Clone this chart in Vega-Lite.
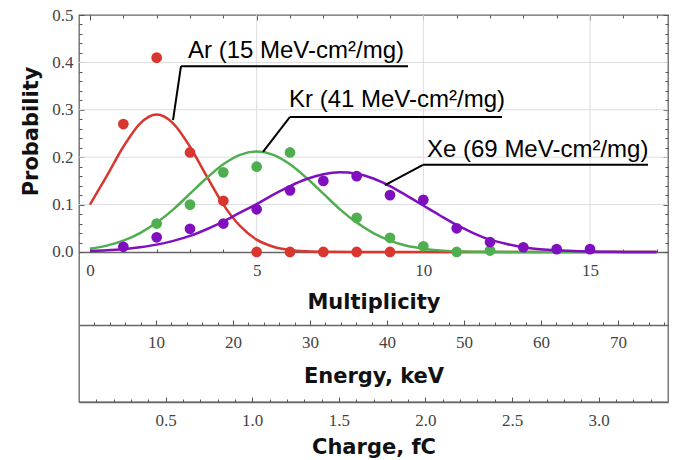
{
  "$schema": "https://vega.github.io/schema/vega-lite/v6.json",
  "width": 589,
  "height": 387,
  "autosize": "none",
  "padding": {"left": 79, "top": 15, "right": 15, "bottom": 58},
  "background": "white",
  "config": {
    "view": {"stroke": "#666666", "strokeWidth": 1.3},
    "axis": {
      "labelFont": "Liberation Serif", "labelFontSize": 17, "labelColor": "#444444",
      "titleFont": "DejaVu Sans", "titleFontSize": 21, "titleFontWeight": "bold", "titleColor": "#111111",
      "tickColor": "#555555", "tickWidth": 1, "domainColor": "#666666", "domainWidth": 1.3,
      "grid": false, "labelFlush": false
    }
  },
  "datasets": {
    "curves": [
      {"ion": "Ar", "m": 0, "p": 0.100}, {"ion": "Ar", "m": 0.5, "p": 0.160}, {"ion": "Ar", "m": 1, "p": 0.222},
      {"ion": "Ar", "m": 1.5, "p": 0.271}, {"ion": "Ar", "m": 2, "p": 0.290}, {"ion": "Ar", "m": 2.5, "p": 0.271},
      {"ion": "Ar", "m": 3, "p": 0.222}, {"ion": "Ar", "m": 3.5, "p": 0.160}, {"ion": "Ar", "m": 4, "p": 0.100},
      {"ion": "Ar", "m": 4.5, "p": 0.055}, {"ion": "Ar", "m": 5, "p": 0.026}, {"ion": "Ar", "m": 5.5, "p": 0.011},
      {"ion": "Ar", "m": 6, "p": 0.004}, {"ion": "Ar", "m": 6.5, "p": 0.0013}, {"ion": "Ar", "m": 7, "p": 0.0004},
      {"ion": "Ar", "m": 8, "p": 0}, {"ion": "Ar", "m": 17, "p": 0},
      {"ion": "Kr", "m": 0, "p": 0.007}, {"ion": "Kr", "m": 0.5, "p": 0.0134}, {"ion": "Kr", "m": 1, "p": 0.024},
      {"ion": "Kr", "m": 1.5, "p": 0.040}, {"ion": "Kr", "m": 2, "p": 0.062}, {"ion": "Kr", "m": 2.5, "p": 0.090},
      {"ion": "Kr", "m": 3, "p": 0.123}, {"ion": "Kr", "m": 3.5, "p": 0.156}, {"ion": "Kr", "m": 4, "p": 0.185},
      {"ion": "Kr", "m": 4.5, "p": 0.205}, {"ion": "Kr", "m": 5, "p": 0.212}, {"ion": "Kr", "m": 5.5, "p": 0.205},
      {"ion": "Kr", "m": 6, "p": 0.185}, {"ion": "Kr", "m": 6.5, "p": 0.156}, {"ion": "Kr", "m": 7, "p": 0.123},
      {"ion": "Kr", "m": 7.5, "p": 0.090}, {"ion": "Kr", "m": 8, "p": 0.062}, {"ion": "Kr", "m": 8.5, "p": 0.040},
      {"ion": "Kr", "m": 9, "p": 0.024}, {"ion": "Kr", "m": 9.5, "p": 0.013}, {"ion": "Kr", "m": 10, "p": 0.007},
      {"ion": "Kr", "m": 10.5, "p": 0.0034}, {"ion": "Kr", "m": 11, "p": 0.0016}, {"ion": "Kr", "m": 11.5, "p": 0.0007},
      {"ion": "Kr", "m": 12, "p": 0.0003}, {"ion": "Kr", "m": 13, "p": 0}, {"ion": "Kr", "m": 17, "p": 0},
      {"ion": "Xe", "m": 0, "p": 0.002}, {"ion": "Xe", "m": 0.5, "p": 0.0035}, {"ion": "Xe", "m": 1, "p": 0.006},
      {"ion": "Xe", "m": 1.5, "p": 0.010}, {"ion": "Xe", "m": 2, "p": 0.0155}, {"ion": "Xe", "m": 2.5, "p": 0.0235},
      {"ion": "Xe", "m": 3, "p": 0.034}, {"ion": "Xe", "m": 3.5, "p": 0.048}, {"ion": "Xe", "m": 4, "p": 0.064},
      {"ion": "Xe", "m": 4.5, "p": 0.083}, {"ion": "Xe", "m": 5, "p": 0.101}, {"ion": "Xe", "m": 5.5, "p": 0.121},
      {"ion": "Xe", "m": 6, "p": 0.139}, {"ion": "Xe", "m": 6.5, "p": 0.154}, {"ion": "Xe", "m": 7, "p": 0.164},
      {"ion": "Xe", "m": 7.5, "p": 0.168}, {"ion": "Xe", "m": 8, "p": 0.165}, {"ion": "Xe", "m": 8.5, "p": 0.155},
      {"ion": "Xe", "m": 9, "p": 0.139}, {"ion": "Xe", "m": 9.5, "p": 0.119}, {"ion": "Xe", "m": 10, "p": 0.098},
      {"ion": "Xe", "m": 10.5, "p": 0.077}, {"ion": "Xe", "m": 11, "p": 0.057}, {"ion": "Xe", "m": 11.5, "p": 0.040},
      {"ion": "Xe", "m": 12, "p": 0.026}, {"ion": "Xe", "m": 12.5, "p": 0.017}, {"ion": "Xe", "m": 13, "p": 0.010},
      {"ion": "Xe", "m": 13.5, "p": 0.006}, {"ion": "Xe", "m": 14, "p": 0.0035}, {"ion": "Xe", "m": 14.5, "p": 0.002},
      {"ion": "Xe", "m": 15, "p": 0.001}, {"ion": "Xe", "m": 15.5, "p": 0.0005}, {"ion": "Xe", "m": 16, "p": 0.0002},
      {"ion": "Xe", "m": 17, "p": 0}
    ],
    "points": [
      {"ion": "Ar", "m": 1, "p": 0.27}, {"ion": "Ar", "m": 2, "p": 0.41}, {"ion": "Ar", "m": 3, "p": 0.21},
      {"ion": "Ar", "m": 4, "p": 0.108}, {"ion": "Ar", "m": 5, "p": 0}, {"ion": "Ar", "m": 6, "p": 0},
      {"ion": "Ar", "m": 7, "p": 0}, {"ion": "Ar", "m": 8, "p": 0}, {"ion": "Ar", "m": 9, "p": 0},
      {"ion": "Kr", "m": 2, "p": 0.06}, {"ion": "Kr", "m": 3, "p": 0.10}, {"ion": "Kr", "m": 4, "p": 0.168},
      {"ion": "Kr", "m": 5, "p": 0.18}, {"ion": "Kr", "m": 6, "p": 0.21}, {"ion": "Kr", "m": 8, "p": 0.072},
      {"ion": "Kr", "m": 9, "p": 0.03}, {"ion": "Kr", "m": 10, "p": 0.012}, {"ion": "Kr", "m": 11, "p": 0.0},
      {"ion": "Kr", "m": 12, "p": 0.003},
      {"ion": "Xe", "m": 1, "p": 0.011}, {"ion": "Xe", "m": 2, "p": 0.031}, {"ion": "Xe", "m": 3, "p": 0.049},
      {"ion": "Xe", "m": 4, "p": 0.06}, {"ion": "Xe", "m": 5, "p": 0.09}, {"ion": "Xe", "m": 6, "p": 0.13},
      {"ion": "Xe", "m": 7, "p": 0.15}, {"ion": "Xe", "m": 8, "p": 0.16}, {"ion": "Xe", "m": 9, "p": 0.12},
      {"ion": "Xe", "m": 10, "p": 0.11}, {"ion": "Xe", "m": 11, "p": 0.05}, {"ion": "Xe", "m": 12, "p": 0.021},
      {"ion": "Xe", "m": 13, "p": 0.01}, {"ion": "Xe", "m": 14, "p": 0.006}, {"ion": "Xe", "m": 15, "p": 0.006}
    ],
    "hgrid": [{"p": 0.1}, {"p": 0.2}, {"p": 0.3}, {"p": 0.4}],
    "vgrid": [{"m": 5}, {"m": 10}, {"m": 15}],
    "segments": [
      {"x1": 2.49, "y1": 0.278, "x2": 2.73, "y2": 0.392},
      {"x1": 2.73, "y1": 0.392, "x2": 9.54, "y2": 0.392},
      {"x1": 5.19, "y1": 0.211, "x2": 6.0, "y2": 0.285},
      {"x1": 6.0, "y1": 0.285, "x2": 12.36, "y2": 0.285},
      {"x1": 8.85, "y1": 0.141, "x2": 9.99, "y2": 0.184},
      {"x1": 9.99, "y1": 0.184, "x2": 16.74, "y2": 0.184}
    ],
    "labels": [
      {"x": 2.94, "y": 0.409, "label": "Ar (15 MeV-cm²/mg)"},
      {"x": 5.97, "y": 0.306, "label": "Kr (41 MeV-cm²/mg)"},
      {"x": 10.11, "y": 0.200, "label": "Xe (69 MeV-cm²/mg)"}
    ]
  },
  "layer": [
    {
      "data": {"name": "hgrid"},
      "mark": {"type": "rule", "color": "#dddddd", "strokeWidth": 1},
      "encoding": {
        "y": {
          "field": "p", "type": "quantitative",
          "scale": {"domain": [-0.3165, 0.5], "nice": false, "zero": false},
          "axis": {
            "orient": "left", "values": [0, 0.1, 0.2, 0.3, 0.4, 0.5], "format": ".1f",
            "tickSize": -5, "labelPadding": 11, "domain": false,
            "title": "Probability", "titleX": -42, "titleY": 116, "titleAngle": 270,
            "titleBaseline": "alphabetic", "titleAlign": "center"
          }
        }
      }
    },
    {
      "data": {"name": "vgrid"},
      "mark": {"type": "rule", "color": "#dddddd", "strokeWidth": 1},
      "encoding": {
        "x": {
          "field": "m", "type": "quantitative",
          "scale": {"domain": [-0.33, 17.34], "nice": false, "zero": false},
          "axis": {
            "orient": "bottom", "offset": -150, "values": [0, 5, 10, 15],
            "tickSize": -5, "labelPadding": 15, "domain": true,
            "title": "Multiplicity", "titleY": 56, "titleBaseline": "alphabetic"
          }
        },
        "y": {"datum": 0, "type": "quantitative", "scale": {"domain": [-0.3165, 0.5], "nice": false, "zero": false}, "axis": null},
        "y2": {"datum": 0.5}
      }
    },
    {
      "data": {"name": "curves"},
      "mark": {"type": "line", "strokeWidth": 2.5, "interpolate": "monotone"},
      "encoding": {
        "x": {"field": "m", "type": "quantitative", "scale": {"domain": [-0.33, 17.34], "nice": false, "zero": false}, "axis": null},
        "y": {"field": "p", "type": "quantitative", "scale": {"domain": [-0.3165, 0.5], "nice": false, "zero": false}, "axis": null},
        "color": {
          "field": "ion", "type": "nominal",
          "scale": {"domain": ["Ar", "Kr", "Xe"], "range": ["#d9362f", "#4fae4f", "#800fc0"]},
          "legend": null
        }
      }
    },
    {
      "data": {"name": "points"},
      "mark": {"type": "circle", "size": 115, "opacity": 1},
      "encoding": {
        "x": {"field": "m", "type": "quantitative", "scale": {"domain": [-0.33, 17.34], "nice": false, "zero": false}, "axis": null},
        "y": {"field": "p", "type": "quantitative", "scale": {"domain": [-0.3165, 0.5], "nice": false, "zero": false}, "axis": null},
        "color": {"field": "ion", "type": "nominal", "scale": {"domain": ["Ar", "Kr", "Xe"], "range": ["#d9362f", "#4fae4f", "#800fc0"]}, "legend": null}
      }
    },
    {
      "data": {"name": "segments"},
      "mark": {"type": "rule", "color": "#000000", "strokeWidth": 2},
      "encoding": {
        "x": {"field": "x1", "type": "quantitative", "scale": {"domain": [-0.33, 17.34], "nice": false, "zero": false}, "axis": null},
        "y": {"field": "y1", "type": "quantitative", "scale": {"domain": [-0.3165, 0.5], "nice": false, "zero": false}, "axis": null},
        "x2": {"field": "x2"},
        "y2": {"field": "y2"}
      }
    },
    {
      "data": {"name": "labels"},
      "mark": {"type": "text", "align": "left", "baseline": "alphabetic", "font": "Liberation Sans", "fontSize": 24, "color": "#000000"},
      "encoding": {
        "x": {"field": "x", "type": "quantitative", "scale": {"domain": [-0.33, 17.34], "nice": false, "zero": false}, "axis": null},
        "y": {"field": "y", "type": "quantitative", "scale": {"domain": [-0.3165, 0.5], "nice": false, "zero": false}, "axis": null},
        "text": {"field": "label"}
      }
    },
    {
      "mark": {"type": "rule", "opacity": 0},
      "encoding": {
        "x": {
          "datum": 0, "type": "quantitative",
          "scale": {"domain": [-0.33, 17.34], "nice": false, "zero": false},
          "axis": {"orient": "bottom", "offset": -150, "values": [0,1,2,3,4,5,6,7,8,9,10,11,12,13,14,15,16,17], "tickSize": -3, "labels": false, "domain": false, "title": null}
        }
      }
    },
    {
      "mark": {"type": "rule", "opacity": 0},
      "encoding": {
        "x": {
          "datum": 0, "type": "quantitative",
          "scale": {"domain": [-0.33, 17.34], "nice": false, "zero": false},
          "axis": {"orient": "top", "values": [0,1,2,3,4,5,6,7,8,9,10,11,12,13,14,15,16,17], "tickSize": -3, "labels": false, "domain": false, "title": null}
        }
      }
    },
    {
      "mark": {"type": "rule", "opacity": 0},
      "encoding": {
        "x": {
          "datum": 0, "type": "quantitative",
          "scale": {"domain": [-0.33, 17.34], "nice": false, "zero": false},
          "axis": {"orient": "top", "values": [0, 5, 10, 15], "tickSize": -5, "labels": false, "domain": false, "title": null}
        }
      }
    },
    {
      "mark": {"type": "rule", "opacity": 0},
      "encoding": {
        "x": {
          "datum": 10, "type": "quantitative",
          "scale": {"domain": [0, 76.5], "nice": false, "zero": false},
          "axis": {
            "orient": "bottom", "offset": -77, "values": [10, 20, 30, 40, 50, 60, 70],
            "tickSize": -5, "labelPadding": 14, "domain": true,
            "title": "Energy, keV", "titleY": 57, "titleBaseline": "alphabetic"
          }
        }
      }
    },
    {
      "mark": {"type": "rule", "opacity": 0},
      "encoding": {
        "x": {
          "datum": 10, "type": "quantitative",
          "scale": {"domain": [0, 76.5], "nice": false, "zero": false},
          "axis": {"orient": "bottom", "offset": -77, "values": [2,4,6,8,10,12,14,16,18,20,22,24,26,28,30,32,34,36,38,40,42,44,46,48,50,52,54,56,58,60,62,64,66,68,70,72,74,76], "tickSize": -3, "labels": false, "domain": false, "title": null}
        }
      }
    },
    {
      "mark": {"type": "rule", "opacity": 0},
      "encoding": {
        "x": {
          "datum": 1, "type": "quantitative",
          "scale": {"domain": [0, 3.4], "nice": false, "zero": false},
          "axis": {
            "orient": "bottom", "offset": 0, "values": [0.5, 1.0, 1.5, 2.0, 2.5, 3.0], "format": ".1f",
            "tickSize": -5, "labelPadding": 15, "domain": true,
            "title": "Charge, fC", "titleY": 51, "titleBaseline": "alphabetic"
          }
        }
      }
    },
    {
      "mark": {"type": "rule", "opacity": 0},
      "encoding": {
        "x": {
          "datum": 1, "type": "quantitative",
          "scale": {"domain": [0, 3.4], "nice": false, "zero": false},
          "axis": {"orient": "bottom", "offset": 0, "values": [0.1,0.2,0.3,0.4,0.5,0.6,0.7,0.8,0.9,1.0,1.1,1.2,1.3,1.4,1.5,1.6,1.7,1.8,1.9,2.0,2.1,2.2,2.3,2.4,2.5,2.6,2.7,2.8,2.9,3.0,3.1,3.2,3.3], "tickSize": -3, "labels": false, "domain": false, "title": null}
        }
      }
    },
    {
      "mark": {"type": "rule", "opacity": 0},
      "encoding": {
        "y": {
          "datum": 0, "type": "quantitative",
          "scale": {"domain": [-0.3165, 0.5], "nice": false, "zero": false},
          "axis": {"orient": "left", "values": [0,0.02,0.04,0.06,0.08,0.1,0.12,0.14,0.16,0.18,0.2,0.22,0.24,0.26,0.28,0.3,0.32,0.34,0.36,0.38,0.4,0.42,0.44,0.46,0.48,0.5], "tickSize": -3, "labels": false, "domain": false, "title": null}
        }
      }
    },
    {
      "mark": {"type": "rule", "opacity": 0},
      "encoding": {
        "y": {
          "datum": 0, "type": "quantitative",
          "scale": {"domain": [-0.3165, 0.5], "nice": false, "zero": false},
          "axis": {"orient": "right", "values": [0,0.02,0.04,0.06,0.08,0.1,0.12,0.14,0.16,0.18,0.2,0.22,0.24,0.26,0.28,0.3,0.32,0.34,0.36,0.38,0.4,0.42,0.44,0.46,0.48,0.5], "tickSize": -3, "labels": false, "domain": false, "title": null}
        }
      }
    },
    {
      "mark": {"type": "rule", "opacity": 0},
      "encoding": {
        "y": {
          "datum": 0, "type": "quantitative",
          "scale": {"domain": [-0.3165, 0.5], "nice": false, "zero": false},
          "axis": {"orient": "right", "values": [0, 0.1, 0.2, 0.3, 0.4, 0.5], "tickSize": -5, "labels": false, "domain": false, "title": null}
        }
      }
    }
  ],
  "resolve": {
    "scale": {"x": "independent"},
    "axis": {"x": "independent", "y": "independent"}
  }
}
